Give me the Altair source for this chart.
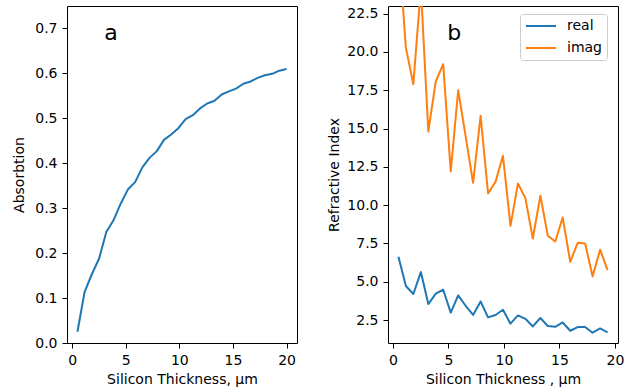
import altair as alt
import pandas as pd

# ---- data ----
thickness = [0.5, 1.17, 1.84, 2.52, 3.19, 3.86, 4.53, 5.21, 5.88, 6.55,
             7.22, 7.90, 8.57, 9.24, 9.91, 10.59, 11.26, 11.93, 12.60, 13.28,
             13.95, 14.62, 15.29, 15.97, 16.64, 17.31, 17.98, 18.66, 19.33, 20.0]
absorption = [0.025, 0.114, 0.153, 0.188, 0.247, 0.273, 0.310, 0.342, 0.358, 0.391,
              0.412, 0.427, 0.452, 0.464, 0.478, 0.498, 0.507, 0.522, 0.533, 0.539,
              0.553, 0.560, 0.566, 0.577, 0.582, 0.590, 0.596, 0.599, 0.606, 0.610]
n_real = [6.63, 4.72, 4.20, 5.63, 3.54, 4.22, 4.48, 2.98, 4.11, 3.43,
          2.83, 3.71, 2.67, 2.83, 3.17, 2.26, 2.80, 2.58, 2.08, 2.63,
          2.11, 2.06, 2.34, 1.80, 2.04, 2.04, 1.67, 1.95, 1.69]
n_imag = [27.0, 20.28, 17.89, 24.2, 14.8, 18.07, 19.2, 12.2, 17.5, 14.5,
          11.46, 15.83, 10.76, 11.52, 13.22, 8.65, 11.41, 10.46, 7.82, 10.61,
          8.0, 7.63, 9.19, 6.30, 7.54, 7.50, 5.35, 7.09, 5.76]
series_names = ["real", "imag"]
x_ticks = [0, 5, 10, 15, 20]
abs_ticks = [0.0, 0.1, 0.2, 0.3, 0.4, 0.5, 0.6, 0.7]
n_ticks = [2.5, 5.0, 7.5, 10.0, 12.5, 15.0, 17.5, 20.0, 22.5]
label_a = {"t": [3.0], "A": [0.675], "label": ["a"]}
label_b = {"t": [4.9], "n": [20.75], "label": ["b"]}

FONT = "DejaVu Sans"
BLUE = "#1f77b4"
ORANGE = "#ff7f0e"

npts = len(n_real)
df_a = pd.DataFrame({"t": thickness, "A": absorption})
df_b = pd.DataFrame({
    "t": thickness[:npts] * 2,
    "n": n_real + n_imag,
    "part": [series_names[0]] * npts + [series_names[1]] * npts,
})

XT_A = "Silicon Thickness, μm"
XT_B = "Silicon Thickness , μm"

# ---- panel a ----
xa = alt.X("t:Q", title=XT_A,
           scale=alt.Scale(domain=[-0.475, 20.975], nice=False, zero=False),
           axis=alt.Axis(values=x_ticks, format="d", labelFlush=False))
ya = alt.Y("A:Q", title="Absorbtion",
           scale=alt.Scale(domain=[0, 0.75], nice=False, zero=False),
           axis=alt.Axis(values=abs_ticks, format=".1f", minExtent=35, maxExtent=35))

line_a = alt.Chart(df_a).mark_line(color=BLUE, strokeWidth=2, strokeJoin="round").encode(
    x=xa, y=ya)
text_a = alt.Chart(pd.DataFrame(label_a)).mark_text(
    fontSize=22, font=FONT, align="left", baseline="alphabetic", color="black"
).encode(x=alt.X("t:Q", title=XT_A), y=alt.Y("A:Q", title="Absorbtion"), text="label:N")
panel_a = alt.layer(line_a, text_a).properties(width=230, height=337)

# ---- panel b ----
xb = alt.X("t:Q", title=XT_B,
           scale=alt.Scale(domain=[-0.44, 20.27], nice=False, zero=False),
           axis=alt.Axis(values=x_ticks, format="d", labelFlush=False))
yb = alt.Y("n:Q", title="Refractive Index",
           scale=alt.Scale(domain=[1.0, 23.0], nice=False, zero=False),
           axis=alt.Axis(values=n_ticks, format=".1f", minExtent=41, maxExtent=41))
color = alt.Color(
    "part:N",
    scale=alt.Scale(domain=series_names, range=[BLUE, ORANGE]),
    sort=series_names,
    legend=alt.Legend(
        title=None, orient="none", legendX=132, legendY=8,
        symbolType="stroke", symbolSize=900, symbolStrokeWidth=2,
        clipHeight=14, rowPadding=8, labelOffset=10,
        labelFont=FONT, labelFontSize=14, labelColor="black",
        padding=5, strokeColor="#cccccc", fillColor="white", cornerRadius=3,
    ),
)
lines_b = alt.Chart(df_b).mark_line(strokeWidth=2, strokeJoin="round", clip=True).encode(
    x=xb, y=yb, color=color)
text_b = alt.Chart(pd.DataFrame(label_b)).mark_text(
    fontSize=22, font=FONT, align="left", baseline="alphabetic", color="black"
).encode(x=alt.X("t:Q", title=XT_B), y=alt.Y("n:Q", title="Refractive Index"), text="label:N")
panel_b = alt.layer(lines_b, text_b).properties(width=230, height=337)

chart = (
    alt.hconcat(panel_a, panel_b, spacing=28)
    .resolve_legend(color="independent")
    .properties(padding={"left": 11, "top": 5, "right": 14, "bottom": 0},
                background="white")
    .configure_view(stroke="black", strokeWidth=1)
    .configure_axis(
        grid=False, domain=False,
        tickColor="black", tickSize=5, tickWidth=1,
        labelPadding=5, labelFont=FONT, labelFontSize=14, labelColor="black",
        titleFont=FONT, titleFontSize=14, titleFontWeight="normal",
        titleColor="black", titlePadding=6,
    )
    .configure_axisX(titlePadding=5)
)

chart.save("out.html", embed_options={"renderer": "svg", "actions": False})
